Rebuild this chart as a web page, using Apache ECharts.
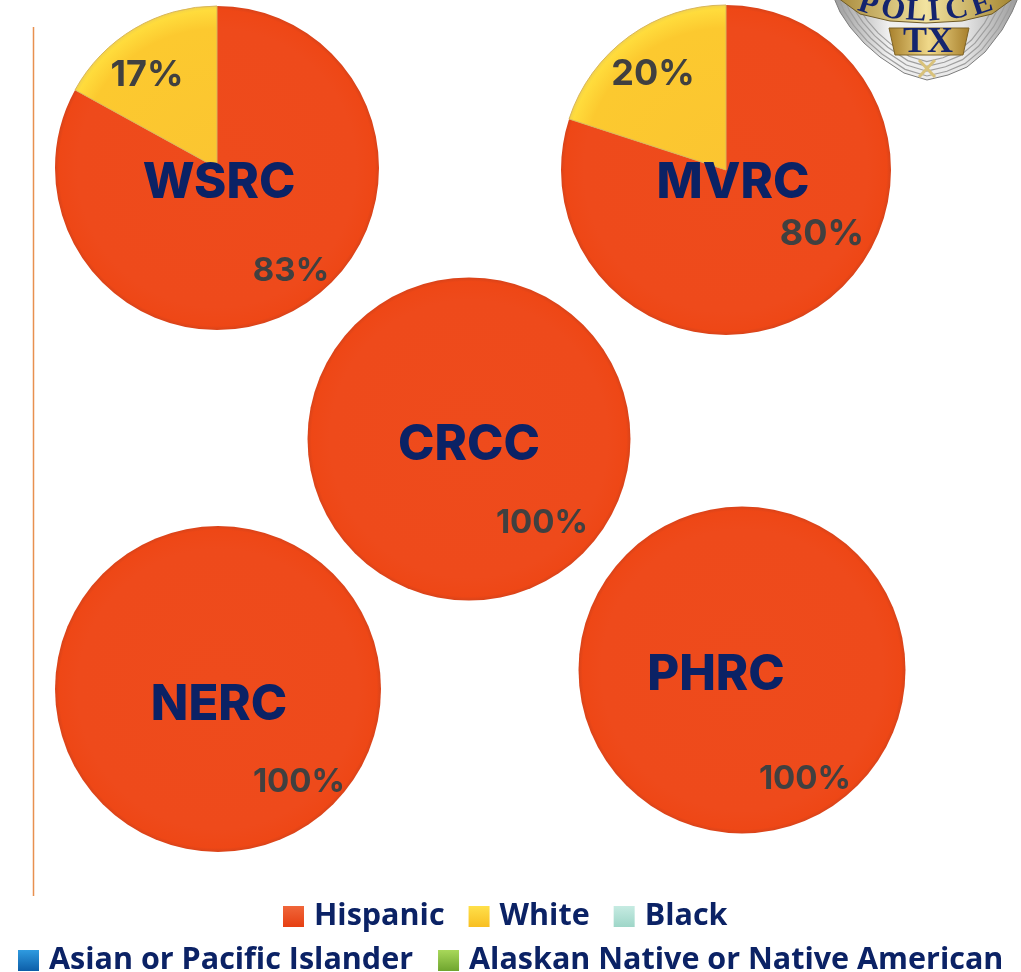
<!DOCTYPE html>
<html>
<head>
<meta charset="utf-8">
<style>
  html, body { margin: 0; padding: 0; background: #fff; }
  #chart { width: 1021px; height: 972px; }
</style>
<script src="https://cdn.jsdelivr.net/npm/echarts@6/dist/echarts.min.js"></script>
</head>
<body>
<div id="chart"></div>
<script>
// data
const categories = ['Hispanic', 'White', 'Black', 'Asian or Pacific Islander', 'Alaskan Native or Native American'];
const regions = ['WSRC', 'MVRC', 'CRCC', 'NERC', 'PHRC'];
const wsrcValues = [83, 17, 0, 0, 0];
const mvrcValues = [80, 20, 0, 0, 0];
const crccValues = [100, 0, 0, 0, 0];
const nercValues = [100, 0, 0, 0, 0];
const phrcValues = [100, 0, 0, 0, 0];
const regionValues = [wsrcValues, mvrcValues, crccValues, nercValues, phrcValues];

// layout, per region: pie centre and radius, region name centre, label centre and size per slice
const pieLayout = [
  { cx: 217, cy: 168, r: 162, nameX: 219, nameY: 183, labels: [[291, 271], [147, 75]], sizes: [33, 36] },
  { cx: 726, cy: 170, r: 165, nameX: 733, nameY: 183, labels: [[822, 234], [653, 74]], sizes: [36, 36] },
  { cx: 469, cy: 439, r: 161.5, nameX: 469, nameY: 445, labels: [[542, 523]], sizes: [33] },
  { cx: 218, cy: 689, r: 163, nameX: 219, nameY: 705, labels: [[299, 782]], sizes: [33] },
  { cx: 742, cy: 670, r: 163.5, nameX: 716, nameY: 675, labels: [[805, 779]], sizes: [33] }
];

const navy = '#0b2265';
const legendColors = [
  ['#f0663a', '#e63f12'],
  ['#ffe04a', '#f8bf22'],
  ['#c6ebe2', '#9ed6c8'],
  ['#2f9be0', '#0d5ea8'],
  ['#a8d85a', '#6fa52e']
];

function sliceColor(layout, stops) {
  return new echarts.graphic.RadialGradient(layout.cx, layout.cy, layout.r,
    stops.map((c, i) => ({ offset: [0, 0.86, 0.975, 1][i], color: c })), true);
}

const redStops = ['#ee4b1c', '#ee4a1b', '#ee4716', '#d8431a'];
const yellowStops = ['#fbc531', '#fcc92f', '#ffdc3c', '#f2d24a'];

const series = regionValues.map((values, idx) => {
  const layout = pieLayout[idx];
  return {
    type: 'pie',
    name: regions[idx],
    center: [layout.cx, layout.cy],
    radius: [0, layout.r],
    startAngle: 90,
    clockwise: true,
    silent: true,
    animation: false,
    labelLine: { show: false },
    label: {
      position: 'inside',
      formatter: '{d}%',
      color: '#404040',
      fontFamily: 'Inter',
      fontWeight: 700,
      fontSize: 33
    },
    labelLayout: (params) => {
      const pos = layout.labels[params.dataIndex];
      if (!pos) return {};
      return { x: pos[0], y: pos[1], align: 'center', verticalAlign: 'middle' };
    },
    data: values.map((v, i) => ({
      name: categories[i],
      value: v,
      label: { show: v > 0, fontSize: layout.sizes[i] || 33 },
      itemStyle: {
        color: i === 0 ? sliceColor(layout, redStops) : i === 1 ? sliceColor(layout, yellowStops) : legendColors[i][1],
        borderWidth: i === 1 && v > 0 ? 1 : 0,
        borderColor: '#d9b65a'
      }
    }))
  };
});

function legendItem(i) {
  return {
    name: categories[i],
    icon: 'rect',
    itemStyle: {
      borderWidth: 0,
      color: new echarts.graphic.LinearGradient(0, 0, 0, 1, [
        { offset: 0, color: legendColors[i][0] },
        { offset: 1, color: legendColors[i][1] }
      ])
    }
  };
}

const legendText = { color: navy, fontFamily: 'Open Sans', fontWeight: 700, fontSize: 30.5, padding: [0, 0, 0, 5] };

const chart = echarts.init(document.getElementById('chart'), null, { renderer: 'canvas' });

// badge outline, the top edge of the page cuts it
const badgeOutline = [[834, -2], [840, 12], [850, 27], [864, 43], [880, 57], [904, 73], [927, 80], [948, 75], [967, 67], [985, 52], [1002, 30], [1012, 12], [1018, -2]];
const badgeRings = [0.95, 0.89, 0.83, 0.77];
const badgeBand = [[838, -2], [860, 14], [890, 21], [926, 23], [962, 21], [992, 14], [1014, -2]];
const badgeLetters = [
  ['P', 868, 5, -0.32], ['O', 893, 10, -0.2], ['L', 916, 12, -0.07],
  ['I', 934, 12, 0.07], ['C', 957, 10, 0.2], ['E', 982, 5, 0.32]
];

function ringPoints(scale) {
  return badgeOutline.map((p) => [926 + (p[0] - 926) * scale, p[1] * scale]);
}

chart.setOption({
  backgroundColor: '#fff',
  animation: false,
  legend: [
    {
      top: 901, left: 283, itemWidth: 21, itemHeight: 21, itemGap: 24, padding: 0,
      selectedMode: false, textStyle: legendText,
      data: [0, 1, 2].map(legendItem)
    },
    {
      top: 945, left: 18, itemWidth: 21, itemHeight: 21, itemGap: 25, padding: 0,
      selectedMode: false, textStyle: legendText,
      data: [3, 4].map(legendItem)
    }
  ],
  series: series,
  graphic: {
    elements: [
      // vertical rule on the left
      { type: 'line', shape: { x1: 33.5, y1: 27, x2: 33.5, y2: 896 }, style: { stroke: '#e8904f', lineWidth: 1.5 } },
      // region names
      ...regions.map((name, i) => ({
        type: 'text',
        x: pieLayout[i].nameX,
        y: pieLayout[i].nameY,
        z: 20,
        style: {
          text: name, fill: navy, align: 'center', verticalAlign: 'middle',
          fontFamily: 'Inter', fontWeight: 800, fontSize: 49
        }
      })),
      // police badge
      {
        type: 'group',
        z: 30,
        children: [
          {
            type: 'polygon',
            shape: { points: badgeOutline },
            style: {
              fill: new echarts.graphic.LinearGradient(0, 0, 1, 0, [
                { offset: 0, color: '#9a9a9a' },
                { offset: 0.3, color: '#f0f0f0' },
                { offset: 0.7, color: '#e8e8e8' },
                { offset: 1, color: '#9a9a9a' }
              ]),
              stroke: '#7c7c7c', lineWidth: 1
            }
          },
          ...badgeRings.map((scale) => ({
            type: 'polyline',
            shape: { points: ringPoints(scale) },
            style: { fill: 'none', stroke: '#9f9f9f', lineWidth: 1.2 }
          })),
          {
            type: 'polygon',
            shape: { points: badgeBand },
            style: {
              fill: new echarts.graphic.LinearGradient(0, 0, 1, 0, [
                { offset: 0, color: '#a88a3c' },
                { offset: 0.5, color: '#f2e3a0' },
                { offset: 1, color: '#a3842f' }
              ]),
              stroke: '#6f5a26', lineWidth: 1
            }
          },
          {
            type: 'polygon',
            shape: { points: [[889, 28], [969, 28], [963, 55], [895, 55]] },
            style: {
              fill: new echarts.graphic.LinearGradient(0, 0, 1, 0, [
                { offset: 0, color: '#a8802c' },
                { offset: 0.5, color: '#f0d98a' },
                { offset: 1, color: '#a67e2a' }
              ]),
              stroke: '#7d6326', lineWidth: 1
            }
          },
          ...badgeLetters.map((l) => ({
            type: 'text', x: l[1], y: l[2], rotation: l[3],
            style: { text: l[0], fill: '#14246e', align: 'center', verticalAlign: 'middle', fontFamily: 'Liberation Serif', fontWeight: 700, fontSize: 31 }
          })),
          {
            type: 'text', x: 928, y: 43,
            style: { text: 'TX', fill: '#14246e', align: 'center', verticalAlign: 'middle', fontFamily: 'Liberation Serif', fontWeight: 700, fontSize: 36 }
          },
          { type: 'line', shape: { x1: 919, y1: 60, x2: 935, y2: 77 }, style: { stroke: '#d9c27a', lineWidth: 3 } },
          { type: 'line', shape: { x1: 935, y1: 60, x2: 919, y2: 77 }, style: { stroke: '#d9c27a', lineWidth: 3 } }
        ]
      }
    ]
  }
});
</script>
</body>
</html>
